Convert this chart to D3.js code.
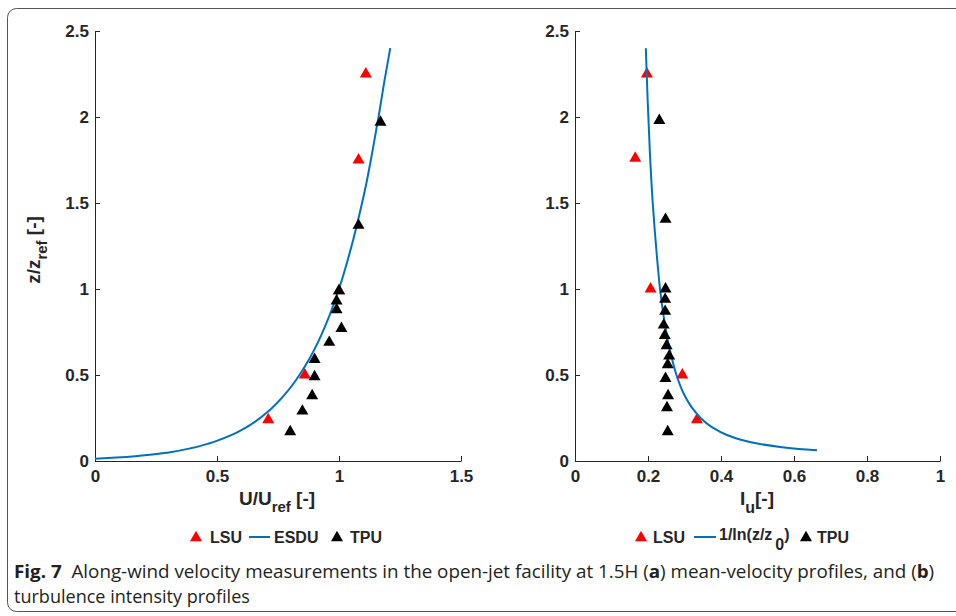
<!DOCTYPE html>
<html><head><meta charset="utf-8">
<script src="https://cdn.jsdelivr.net/npm/d3@7"></script>
<style>body{margin:0;background:#fff} svg{display:block}</style>
</head><body>
<svg id="chart" width="956" height="616"></svg>
<script>
// ---- data ----
const yTicks = [0, 0.5, 1, 1.5, 2, 2.5];
const xTicksA = [0, 0.5, 1, 1.5];
const xTicksB = [0, 0.2, 0.4, 0.6, 0.8, 1];

// panel (a): mean velocity
const lsuA_U = [1.11, 1.08, 1.00, 0.86, 0.71];
const lsuA_z = [2.26, 1.76, 1.00, 0.51, 0.25];
const tpuA_U = [1.17, 1.08, 1.00, 0.99, 0.99, 1.01, 0.96, 0.90, 0.90, 0.89, 0.85, 0.80];
const tpuA_z = [1.98, 1.38, 1.00, 0.94, 0.89, 0.78, 0.70, 0.60, 0.50, 0.39, 0.30, 0.18];
const esdu_z = [0.0137, 0.02, 0.03, 0.05, 0.075, 0.1, 0.15, 0.2, 0.3, 0.4, 0.5, 0.6, 0.7, 0.8, 1.0, 1.2, 1.4, 1.6, 1.8, 2.0, 2.2, 2.4];
const esdu_U = [0, 0.088, 0.183, 0.302, 0.396, 0.463, 0.558, 0.625, 0.719, 0.786, 0.838, 0.881, 0.917, 0.948, 1.0, 1.042, 1.078, 1.110, 1.137, 1.162, 1.185, 1.21];

// panel (b): turbulence intensity
const lsuB_I = [0.197, 0.165, 0.207, 0.294, 0.334];
const lsuB_z = [2.26, 1.77, 1.01, 0.51, 0.25];
const tpuB_I = [0.231, 0.248, 0.248, 0.247, 0.247, 0.243, 0.246, 0.251, 0.258, 0.254, 0.248, 0.255, 0.252, 0.254];
const tpuB_z = [1.99, 1.415, 1.01, 0.95, 0.88, 0.80, 0.74, 0.68, 0.62, 0.57, 0.49, 0.39, 0.32, 0.18];
const log_z = [0.062, 0.07, 0.08, 0.1, 0.125, 0.15, 0.2, 0.25, 0.3, 0.4, 0.5, 0.6, 0.8, 1.0, 1.2, 1.5, 1.8, 2.1, 2.4];
const log_I = [0.663, 0.613, 0.567, 0.503, 0.452, 0.418, 0.373, 0.344, 0.324, 0.296, 0.278, 0.265, 0.246, 0.233, 0.224, 0.213, 0.205, 0.199, 0.194];

// ---- drawing ----
const svg = d3.select("#chart");
const BLUE = "#0072BD", AX = "#262626";
const FONT = "'Liberation Sans', Arial, Helvetica, sans-serif";

// frame
svg.append("rect").attr("x", 7.5).attr("y", 8.5).attr("width", 980).attr("height", 603)
  .attr("rx", 9).attr("fill", "none").attr("stroke", "#555").attr("stroke-width", 1);

const y = d3.scaleLinear().domain([0, 2.5]).range([461, 31]);

function tri(sz) {
  const w = sz, h = sz * 0.87;
  return `M0,${-h/2}L${w/2},${h/2}L${-w/2},${h/2}Z`;
}

function panel(x0, x1, xdom, xticks) {
  const x = d3.scaleLinear().domain(xdom).range([x0, x1]);
  const g = svg.append("g");
  const ax = g.append("g").attr("transform", `translate(0,${y(0)})`)
    .call(d3.axisBottom(x).tickValues(xticks).tickFormat(d3.format("~g")).tickSizeInner(-5).tickSizeOuter(0).tickPadding(9));
  const ay = g.append("g").attr("transform", `translate(${x0},0)`)
    .call(d3.axisLeft(y).tickValues(yTicks).tickFormat(d3.format("~g")).tickSizeInner(-5).tickSizeOuter(0).tickPadding(6));
  [ax, ay].forEach(a => {
    a.select(".domain").attr("stroke", AX).attr("stroke-width", 1);
    a.selectAll(".tick line").attr("stroke", AX);
    a.selectAll(".tick text").attr("fill", AX).style("font-family", FONT)
      .style("font-weight", "bold").style("font-size", "17px");
  });
  return {x, g};
}

function points(g, x, xs, zs, color) {
  g.append("g").selectAll("path").data(xs.map((v, i) => [v, zs[i]])).join("path")
    .attr("d", tri(12)).attr("fill", color)
    .attr("transform", d => `translate(${x(d[0])},${y(d[1])})`);
}
function curve(g, x, xs, zs) {
  const line = d3.line().x(d => x(d[0])).y(d => y(d[1])).curve(d3.curveMonotoneY);
  g.append("path").datum(xs.map((v, i) => [v, zs[i]])).attr("d", line)
    .attr("fill", "none").attr("stroke", BLUE).attr("stroke-width", 2);
}

const A = panel(95, 461, [0, 1.5], xTicksA);
points(A.g, A.x, lsuA_U, lsuA_z, "#FF0000");
curve(A.g, A.x, esdu_U, esdu_z);
points(A.g, A.x, tpuA_U, tpuA_z, "#000");

const B = panel(575, 940, [0, 1], xTicksB);
points(B.g, B.x, lsuB_I, lsuB_z, "#FF0000");
curve(B.g, B.x, log_I, log_z);
points(B.g, B.x, tpuB_I, tpuB_z, "#000");

// axis labels
function label(parts, attrs) {
  const t = svg.append("text").style("font-family", FONT).style("font-weight", "bold")
    .attr("fill", AX).attr("text-anchor", "middle");
  Object.entries(attrs).forEach(([k, v]) => t.attr(k, v));
  parts.forEach(p => {
    const s = t.append("tspan").text(p.t).style("font-size", (p.fs || 19) + "px");
    if (p.dy) s.attr("dy", p.dy);
  });
  return t;
}
label([{t: "U/U"}, {t: "ref", fs: 15, dy: 7}, {t: " [-]", dy: -7}], {x: 277, y: 505});
label([{t: "I"}, {t: "u", fs: 16, dy: 8}, {t: "[-]", dy: -8}], {x: 757, y: 505});
label([{t: "z/z"}, {t: "ref", fs: 15, dy: 7}, {t: " [-]", dy: -7}], {transform: "translate(40,250) rotate(-90)"});

// legends
function legend(items, yy) {
  const g = svg.append("g");
  items.forEach(it => {
    if (it.type === "tri") g.append("path").attr("d", tri(12)).attr("fill", it.color)
      .attr("transform", `translate(${it.x},${yy - 1})`);
    else if (it.type === "line") g.append("line").attr("x1", it.x).attr("x2", it.x2)
      .attr("y1", yy).attr("y2", yy).attr("stroke", BLUE).attr("stroke-width", 2);
    else {
      const t = g.append("text").attr("x", it.x).attr("y", yy + 6).attr("fill", AX)
        .style("font-family", FONT).style("font-weight", "bold").style("font-size", "16px");
      it.parts.forEach(p => {
        const s = t.append("tspan").text(p.t);
        if (p.fs) s.style("font-size", p.fs + "px");
        if (p.dy) s.attr("dy", p.dy);
        if (p.dx) s.attr("dx", p.dx);
      });
    }
  });
}
legend([
  {type: "tri", x: 196, color: "#FF0000"},
  {type: "text", x: 210, parts: [{t: "LSU"}]},
  {type: "line", x: 249, x2: 270},
  {type: "text", x: 274, parts: [{t: "ESDU"}]},
  {type: "tri", x: 337, color: "#000"},
  {type: "text", x: 350, parts: [{t: "TPU"}]}
], 537);
legend([
  {type: "tri", x: 641, color: "#FF0000"},
  {type: "text", x: 653, parts: [{t: "LSU"}]},
  {type: "line", x: 694, x2: 716},
  {type: "text", x: 719, parts: [{t: "1/ln(z/z", fs: 16, dy: -3}, {t: "0", fs: 16, dx: 3, dy: 10}, {t: ")", fs: 16, dy: -10}]},
  {type: "tri", x: 806, color: "#000"},
  {type: "text", x: 817, parts: [{t: "TPU"}]}
], 537);

// caption
const CF = "'Open Sans', 'Noto Sans', sans-serif";
function capLine(parts, yy, targetW) {
  const t = svg.append("text").attr("x", 0).attr("y", 0).attr("fill", "#231f20")
    .style("font-family", CF).style("font-size", "18.5px");
  parts.forEach(p => {
    const s = t.append("tspan").text(p.t);
    if (p.b) s.style("font-weight", "bold");
  });
  const w = t.node().getComputedTextLength();
  t.attr("transform", `translate(14,${yy}) scale(${targetW / w},1)`);
}
capLine([{t: "Fig. 7", b: true}, {t: "\u00a0\u00a0Along-wind velocity measurements in the open-jet facility at 1.5H ("},
  {t: "a", b: true}, {t: ") mean-velocity profiles, and ("}, {t: "b", b: true}, {t: ")"}], 578, 921);
capLine([{t: "turbulence intensity profiles"}], 603, 236);
</script>
</body></html>
